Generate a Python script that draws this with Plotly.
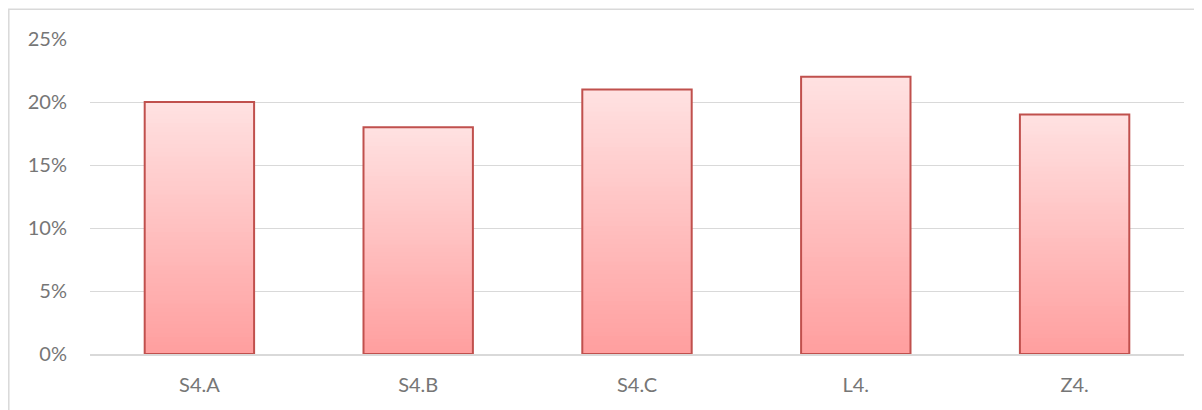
import plotly.graph_objects as go

categories = ["S4.A", "S4.B", "S4.C", "L4.", "Z4."]
values = [0.20, 0.18, 0.21, 0.22, 0.19]
y_ticks = [0, 0.05, 0.10, 0.15, 0.20, 0.25]

TOP_RGB = (255, 225, 225)
BOTTOM_RGB = (255, 158, 158)
N_LEVELS = 60

fig = go.Figure()

# vertical gradient fill: overlapping bars from full height down to short,
# each shorter one drawn on top with a darker colour (no seams)
for k in range(N_LEVELS):
    frac = (N_LEVELS - k) / N_LEVELS
    c = tuple(round(BOTTOM_RGB[j] + (TOP_RGB[j] - BOTTOM_RGB[j]) * frac) for j in range(3))
    fig.add_trace(go.Bar(
        x=categories,
        y=[v * frac for v in values],
        width=0.5,
        marker=dict(color="rgb(%d,%d,%d)" % c, line=dict(width=0)),
        hoverinfo="skip",
        showlegend=False,
    ))

# outline
fig.add_trace(go.Bar(
    x=categories,
    y=values,
    width=0.5,
    marker=dict(color="rgba(0,0,0,0)", line=dict(color="#C0504D", width=2)),
    showlegend=False,
))

ML, MR, MT, MB = 82, 26, 31, 64
PW = 1202 - ML - MR
PH = 410 - MT - MB
TXT = "#767676"

fig.update_layout(
    width=1202,
    height=410,
    barmode="overlay",
    margin=dict(l=ML, r=MR, t=MT, b=MB),
    paper_bgcolor="white",
    plot_bgcolor="white",
    font=dict(family="Lato, 'Open Sans', sans-serif", size=20, color=TXT),
    xaxis=dict(
        showgrid=False,
        showline=True,
        linecolor="#D9D9D9",
        linewidth=1.5,
        ticks="",
        tickfont=dict(size=20, color=TXT),
        ticklabelstandoff=12,
    ),
    yaxis=dict(
        range=[0, 0.25],
        tickvals=y_ticks,
        tickformat=".0%",
        showgrid=True,
        gridcolor="#D9D9D9",
        gridwidth=1.3,
        zeroline=False,
        showline=False,
        ticks="",
        tickfont=dict(size=20, color=TXT),
        ticklabelstandoff=22,
    ),
    shapes=[dict(
        type="rect", xref="paper", yref="paper",
        x0=(0.8 - ML) / PW, x1=(1230 - ML) / PW,
        y0=-(MB + 20) / PH, y1=1 + (MT - 1.2) / PH,
        line=dict(color="#D9D9D9", width=1.5),
        fillcolor="rgba(0,0,0,0)",
        layer="below",
    )],
)

fig.write_html("out.html")
